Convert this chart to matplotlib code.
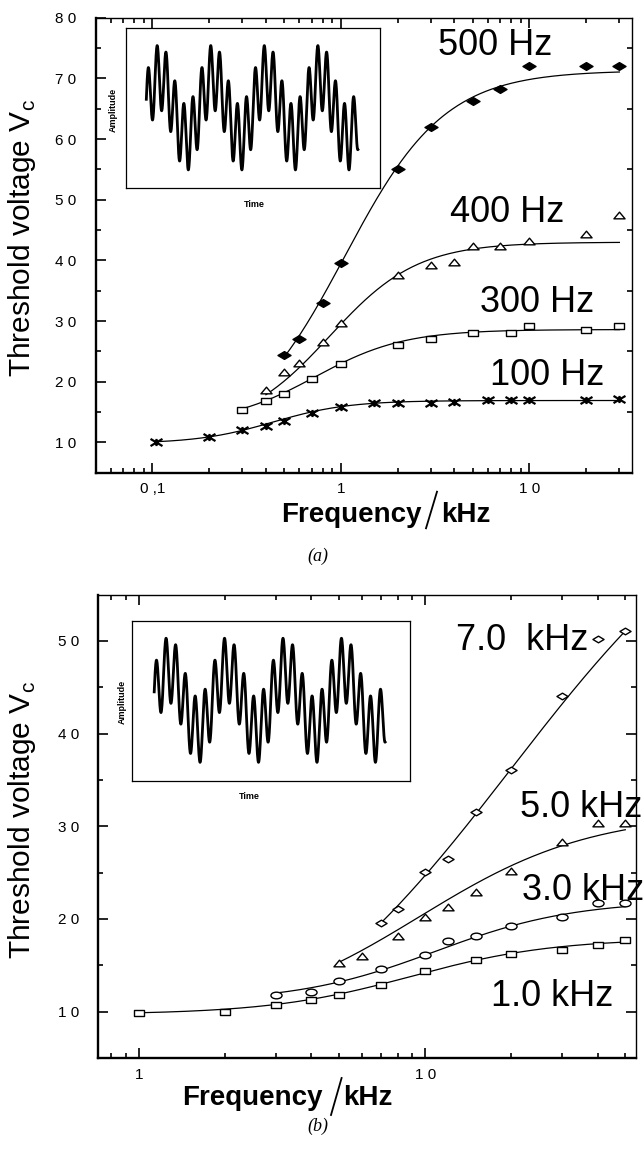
import numpy as np
import matplotlib
matplotlib.use("Agg")
import matplotlib.pyplot as plt
from matplotlib.path import Path
from matplotlib.lines import Line2D
from matplotlib.ticker import LogLocator, NullFormatter, FixedLocator

plt.rcParams["font.family"] = ["Liberation Sans", "DejaVu Sans"]

# ---------------- panel (a): threshold voltage vs frequency (kHz) ----------------
freq_100 = [0.105, 0.2, 0.3, 0.4, 0.5, 0.7, 1.0, 1.5, 2.0, 3.0, 4.0, 6.0, 8.0, 10.0, 20.0, 30.0]
vc_100 = [10.0, 10.9, 12.0, 12.7, 13.6, 14.9, 15.9, 16.5, 16.5, 16.5, 16.6, 17.0, 17.0, 17.0, 17.0, 17.1]
freq_300 = [0.3, 0.4, 0.5, 0.7, 1.0, 2.0, 3.0, 5.0, 8.0, 10.0, 20.0, 30.0]
vc_300 = [15.4, 16.9, 18.0, 20.4, 23.0, 26.0, 27.1, 28.1, 28.1, 29.1, 28.6, 29.1]
freq_400 = [0.4, 0.5, 0.6, 0.8, 1.0, 2.0, 3.0, 4.0, 5.0, 7.0, 10.0, 20.0, 30.0]
vc_400 = [18.6, 21.6, 23.1, 26.6, 29.6, 37.6, 39.2, 39.7, 42.3, 42.3, 43.2, 44.3, 47.4]
freq_500 = [0.5, 0.6, 0.8, 1.0, 2.0, 3.0, 5.0, 7.0, 10.0, 20.0, 30.0]
vc_500 = [24.4, 27.0, 33.0, 39.5, 55.0, 62.0, 66.2, 68.2, 72.1, 72.1, 72.1]

# Boltzmann fit parameters [A1, A2, x0, dx] with x = log10(f / kHz)
fit_100 = [9.8, 16.9, -0.36, 0.20]
fit_300 = [13.0, 28.6, -0.137, 0.236]
fit_400 = [12.0, 43.0, -0.06, 0.232]
fit_500 = [10.0, 71.3, 0.02, 0.265]

labels_a = ["100 Hz", "300 Hz", "400 Hz", "500 Hz"]

# ---------------- panel (b) ----------------
freq_1k = [1.0, 2.0, 3.0, 4.0, 5.0, 7.0, 10.0, 15.0, 20.0, 30.0, 40.0, 50.0]
vc_1k = [9.9, 10.0, 10.7, 11.3, 11.85, 12.85, 14.4, 15.6, 16.2, 16.7, 17.2, 17.7]
freq_3k = [3.0, 4.0, 5.0, 7.0, 10.0, 12.0, 15.0, 20.0, 30.0, 40.0, 50.0]
vc_3k = [11.8, 12.1, 13.3, 14.6, 16.1, 17.6, 18.2, 19.2, 20.2, 21.7, 21.7]
freq_5k = [5.0, 6.0, 8.0, 10.0, 12.0, 15.0, 20.0, 30.0, 40.0, 50.0]
vc_5k = [15.2, 16.0, 18.2, 20.2, 21.3, 22.9, 25.2, 28.3, 30.3, 30.3]
freq_7k = [7.0, 8.0, 10.0, 12.0, 15.0, 20.0, 30.0, 40.0, 50.0]
vc_7k = [19.6, 21.1, 25.1, 26.5, 31.5, 36.1, 44.1, 50.2, 51.1]

fit_1k = [9.7, 17.9, 0.95, 0.25]
fit_3k = [11.0, 22.0, 1.035, 0.243]
fit_5k = [9.0, 31.5, 0.98, 0.30]
fit_7k = [1.2, 71.2, 1.30, 0.44]

labels_b = ["1.0 kHz", "3.0 kHz", "5.0 kHz", "7.0  kHz"]

# inset waveform: fast carrier riding on a slow component
wave_periods = 3.95
wave_ratio = 6
wave_phase = 0.25
wave_slow_amp = 0.92

yt_a = [10, 20, 30, 40, 50, 60, 70, 80]
yt_a_labels = ["1 0", "2 0", "3 0", "4 0", "5 0", "6 0", "7 0", "8 0"]
xt_a = [0.1, 1, 10]
xt_a_labels = ["0 ,1", "1", "1 0"]
yt_b = [10, 20, 30, 40, 50]
yt_b_labels = ["1 0", "2 0", "3 0", "4 0", "5 0"]
xt_b = [1, 10]
xt_b_labels = ["1", "1 0"]

W, H = 643, 1154
fig = plt.figure(figsize=(W / 100, H / 100), dpi=100)


def fx(px):
    return px / W


def fy(py):
    return 1 - py / H


def rect(x0, y0, x1, y1):
    return [fx(x0), fy(y1), (x1 - x0) / W, (y1 - y0) / H]


FLAT = 0.6
M, L, C = Path.MOVETO, Path.LINETO, Path.CLOSEPOLY
m_square = Path([(-1, -FLAT), (1, -FLAT), (1, FLAT), (-1, FLAT), (-1, -FLAT)], [M, L, L, L, C])
m_tri = Path([(-1, -FLAT), (1, -FLAT), (0, FLAT), (-1, -FLAT)], [M, L, L, C])
m_diam = Path([(-1, 0), (0, FLAT), (1, 0), (0, -FLAT), (-1, 0)], [M, L, L, L, C])
_circ = Path.unit_circle()
m_ell = Path(_circ.vertices * np.array([1.0, FLAT]), _circ.codes)
m_star = Path([(-1, -FLAT), (1, FLAT), (-1, FLAT), (1, -FLAT), (0, -FLAT), (0, FLAT)],
              [M, L, M, L, M, L])


def boltzmann(f, p):
    a1, a2, x0, dx = p
    x = np.log10(f)
    return a2 + (a1 - a2) / (1 + np.exp((x - x0) / dx))


def series(ax, f, v, p, marker, ms, filled=False, open_lines=False):
    ff = np.logspace(np.log10(min(f)), np.log10(max(f)), 300)
    ax.plot(ff, boltzmann(ff, p), color="black", lw=0.9, zorder=2)
    if open_lines:
        ax.plot(f, v, ls="none", marker=marker, ms=ms, mfc="none", mec="black", mew=1.6, zorder=3)
    else:
        ax.plot(f, v, ls="none", marker=marker, ms=ms, mfc="black" if filled else "white",
                mec="black", mew=1.0, zorder=3)


def style_axes(ax, xlim, ylim, xt, xtl, yt, ytl, yminor):
    ax.set_xscale("log")
    ax.set_xlim(*xlim)
    ax.set_ylim(*ylim)
    ax.xaxis.set_major_locator(FixedLocator(xt))
    ax.set_xticklabels(xtl)
    ax.xaxis.set_minor_locator(LogLocator(base=10, subs=np.arange(2, 10), numticks=20))
    ax.xaxis.set_minor_formatter(NullFormatter())
    ax.set_yticks(yt)
    ax.set_yticklabels(ytl)
    ax.yaxis.set_minor_locator(FixedLocator(yminor))
    ax.tick_params(which="both", direction="in", top=True, right=True, width=1.2, labelsize=11)
    ax.tick_params(which="major", length=7)
    ax.tick_params(which="minor", length=3.5)
    ax.tick_params(axis="y", pad=14)
    ax.tick_params(axis="x", pad=7)
    for s in ("left", "bottom"):
        ax.spines[s].set_linewidth(1.7)
    for s in ("top", "right"):
        ax.spines[s].set_linewidth(1.0)


def inset(r, time_xy, amp_xy):
    ax = fig.add_axes(r)
    th = np.linspace(0, wave_periods * 2 * np.pi, 2000)
    sig = np.sin(wave_ratio * th + wave_phase) + wave_slow_amp * np.sin(th)
    ax.plot(th, sig, color="black", lw=2.0)
    span = th[-1]
    ax.set_xlim(-0.0975 * span, span * 1.106)
    lo, hi = sig.min(), sig.max()
    d = hi - lo
    ax.set_ylim(lo - 0.148 * d, hi + 0.139 * d)
    ax.set_xticks([])
    ax.set_yticks([])
    for s in ax.spines.values():
        s.set_linewidth(0.9)
    fig.text(fx(time_xy[0]), fy(time_xy[1]), "Time", ha="center", va="center",
             fontsize=6.5, fontweight="bold")
    fig.text(fx(amp_xy[0]), fy(amp_xy[1]), "Amplitude", ha="center", va="center",
             rotation=90, fontsize=6.5, fontweight="bold")


def xlabel(freq_right, kfz_left, baseline, slash):
    fig.text(fx(freq_right), fy(baseline), "Frequency", ha="right", va="baseline",
             fontsize=20, fontweight="bold")
    fig.text(fx(kfz_left), fy(baseline), "kHz", ha="left", va="baseline",
             fontsize=20, fontweight="bold")
    (xa, ya), (xb, yb) = slash
    fig.add_artist(Line2D([fx(xa), fx(xb)], [fy(ya), fy(yb)], color="black", lw=1.3))


# ---------------- panel (a) ----------------
ax_a = fig.add_axes(rect(95.7, 17.7, 632, 472.7))
series(ax_a, freq_100, vc_100, fit_100, m_star, 8.6, open_lines=True)
series(ax_a, freq_300, vc_300, fit_300, m_square, 7.4)
series(ax_a, freq_400, vc_400, fit_400, m_tri, 8.0)
series(ax_a, freq_500, vc_500, fit_500, m_diam, 9.4, filled=True)
style_axes(ax_a, (0.05, 35), (5, 80), xt_a, xt_a_labels, yt_a, yt_a_labels,
           [15, 25, 35, 45, 55, 65, 75])
ax_a.tick_params(axis="y", which="major", right=False)

for txt, (x, y) in zip(labels_a, [(0.735, 0.193), (0.716, 0.354), (0.661, 0.552), (0.638, 0.918)]):
    ax_a.text(x, y, txt, transform=ax_a.transAxes, fontsize=26, ha="left", va="baseline")

fig.text(fx(22), fy(238), "Threshold voltage V$_\\mathregular{c}$", rotation=90,
         ha="center", va="center", fontsize=21.5)
xlabel(422, 441, 521.7, ((426, 528.3), (437, 491.7)))
fig.text(fx(318), fy(556), "(a)", ha="center", va="center", fontsize=13,
         family="Liberation Serif", style="italic")
inset(rect(125.7, 28.3, 380.3, 188.3), (254.6, 204), (112.8, 110))

# ---------------- panel (b) ----------------
ax_b = fig.add_axes(rect(98.3, 594.5, 636, 1058))
series(ax_b, freq_1k, vc_1k, fit_1k, m_square, 6.8)
series(ax_b, freq_3k, vc_3k, fit_3k, m_ell, 8.0)
series(ax_b, freq_5k, vc_5k, fit_5k, m_tri, 8.0)
series(ax_b, freq_7k, vc_7k, fit_7k, m_diam, 8.0)
style_axes(ax_b, (0.72, 54.5), (5, 55), xt_b, xt_b_labels, yt_b, yt_b_labels,
           [15, 25, 35, 45])

for txt, (x, y) in zip(labels_b, [(0.730, 0.112), (0.788, 0.341), (0.784, 0.520), (0.665, 0.880)]):
    ax_b.text(x, y, txt, transform=ax_b.transAxes, fontsize=26, ha="left", va="baseline")

fig.text(fx(22), fy(820), "Threshold voltage V$_\\mathregular{c}$", rotation=90,
         ha="center", va="center", fontsize=21.5)
xlabel(323, 343.6, 1105, ((331, 1115), (341.6, 1078)))
fig.text(fx(318), fy(1126), "(b)", ha="center", va="center", fontsize=13,
         family="Liberation Serif", style="italic")
inset(rect(131.7, 621, 409.6, 780.7), (249.6, 796.7), (122.6, 701.7))

fig.savefig("out.png", dpi=100)
